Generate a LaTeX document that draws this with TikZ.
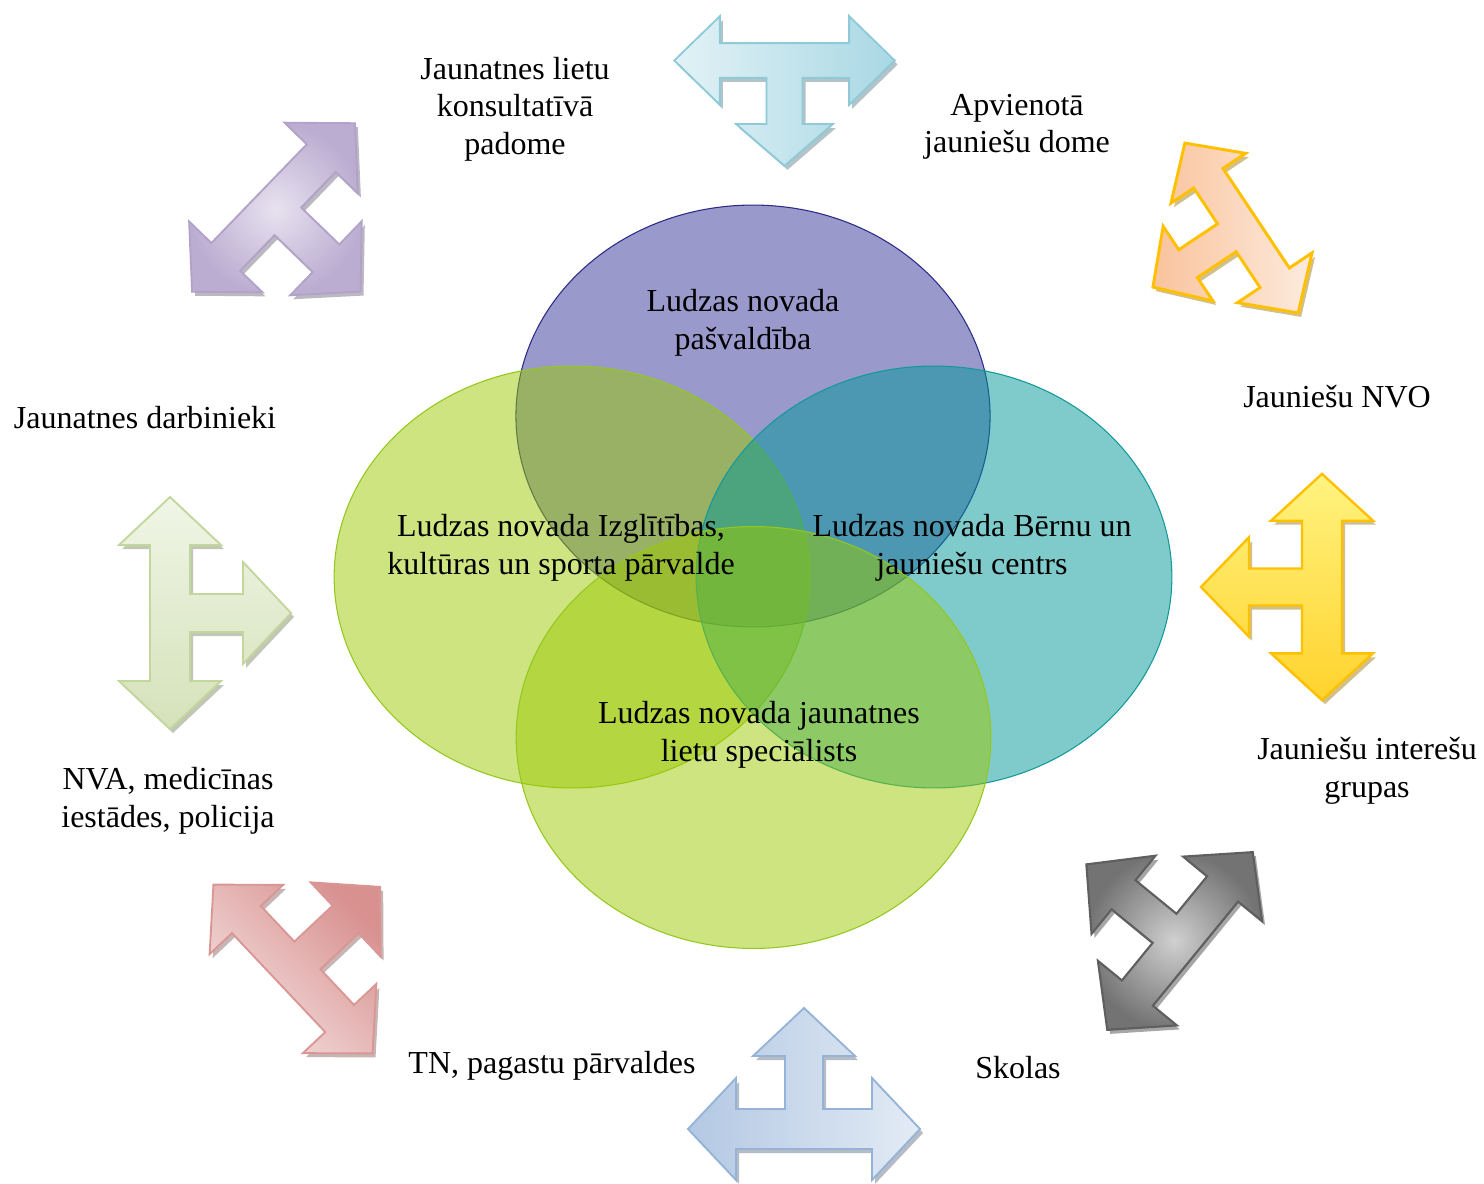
\documentclass[tikz,border=0pt]{standalone}
\usepackage{fontspec}
\setmainfont{Liberation Serif}
\definecolor{cyanB}{HTML}{8FCAD8}\definecolor{cyanL}{HTML}{E2F2F6}\definecolor{cyanD}{HTML}{A9D8E4}
\definecolor{blueB}{HTML}{95B3D7}\definecolor{blueL}{HTML}{E3EBF5}\definecolor{blueD}{HTML}{B3C8E3}
\definecolor{greenB}{HTML}{C3D69B}\definecolor{greenL}{HTML}{F0F5E6}\definecolor{greenD}{HTML}{D5E2BA}
\definecolor{yelB}{HTML}{FFC000}\definecolor{yelL}{HTML}{FFF380}\definecolor{yelD}{HTML}{FFC50A}
\definecolor{purB}{HTML}{B3A2C7}\definecolor{purL}{HTML}{E7E2EF}\definecolor{purD}{HTML}{BBADD1}
\definecolor{oraB}{HTML}{FFC000}\definecolor{oraL}{HTML}{FDEBDE}\definecolor{oraD}{HTML}{F9C39C}
\definecolor{grayB}{HTML}{5F5F5F}\definecolor{grayL}{HTML}{D0D0D0}\definecolor{grayD}{HTML}{737373}
\definecolor{redB}{HTML}{D99694}\definecolor{redL}{HTML}{F3E1E0}\definecolor{redD}{HTML}{D8918F}
\definecolor{purE}{HTML}{333399}\definecolor{purEB}{HTML}{2B2B88}
\definecolor{grnE}{HTML}{9BC901}\definecolor{grnEB}{HTML}{94C81E}
\definecolor{tealE}{HTML}{009797}\definecolor{tealEB}{HTML}{14999A}
\newcommand{\TAp}{(-116,0) -- (-68,51) -- (-68,20) -- (68,20) -- (68,51) -- (116,0) -- (68,-51) -- (68,-20) -- (19,-20) -- (19,-73) -- (51,-73) -- (0,-121) -- (-51,-73) -- (-19,-73) -- (-19,-20) -- (-68,-20) -- (-68,-51) -- cycle}
\newcommand{\TArrow}[7]{%
\begin{scope}[shift={(#1+3,#2+4)},rotate=#3,y=0.375pt,xscale=#4,yscale=#5]
\fill[#7!60!black,opacity=0.45] \TAp;
\end{scope}
\begin{scope}[shift={(#1,#2)},rotate=#3,y=0.375pt,xscale=#4,yscale=#5]
\path[draw=#7,line join=miter,line width=0.7pt,#6] \TAp;
\end{scope}}
\tikzset{
  lbl/.style={align=center,inner sep=0pt,font=\fontsize{12pt}{14.1pt}\selectfont},
  venn/.style={fill opacity=0.5,line width=0.4pt}
}
\begin{document}
\begin{tikzpicture}[x=0.375pt,y=-0.375pt]
\useasboundingbox (0,0) rectangle (1484,1184);
% Venn ellipses
\draw[venn,fill=purE,draw=purEB] (753,416) ellipse [x radius=88.9pt,y radius=79.1pt];
\draw[venn,fill=grnE,draw=grnEB] (572,577) ellipse [x radius=89.2pt,y radius=79.1pt];
\draw[venn,fill=tealE,draw=tealEB] (934,577) ellipse [x radius=89.2pt,y radius=79.1pt];
\draw[venn,fill=grnE,draw=grnEB] (753.5,737.5) ellipse [x radius=89pt,y radius=79.1pt];
% arrows
\TArrow{784.5}{60.5}{0}{0.95}{0.87}{left color=cyanL,right color=cyanD}{cyanB}
\TArrow{804}{1129}{180}{1.0}{1.0}{left color=blueD,right color=blueL}{blueB}
\TArrow{170}{613}{90}{1.0}{1.0}{top color=greenL,bottom color=greenD}{greenB}
\TArrow{1322}{587}{-90}{0.975}{1.0}{top color=yelL,middle color=yelD,bottom color=yelD!70!yelL,line width=0.9pt}{yelB}
\TArrow{273.5}{207.5}{46}{1.01}{1.0}{inner color=purL,outer color=purD}{purB}
\TArrow{1241.5}{228}{-56.3}{0.88}{0.88}{left color=oraD,right color=oraL,line width=1.1pt}{oraB}
\TArrow{1180}{941}{230.7}{0.99}{1.0}{inner color=grayL,outer color=grayD,line width=0.8pt}{grayB}
\TArrow{293}{969}{133.3}{1.0}{0.99}{top color=redD,middle color=redL,bottom color=redL,shading angle=-45}{redB}
% venn texts
\node[lbl] (t1) at (743,323) {Ludzas novada\\pašvaldība};
\node[lbl] (t2) at (561,548) {Ludzas novada Izglītības,\\kultūras un sporta pārvalde};
\node[lbl] (t3) at (972,548) {Ludzas novada Bērnu un\\jauniešu centrs};
\node[lbl] (t4) at (759,735) {Ludzas novada jaunatnes\\lietu speciālists};
% outer labels
\node[lbl] (l1) at (515,109) {Jaunatnes lietu\\konsultatīvā\\padome};
\node[lbl] (l2) at (1017,127) {Apvienotā\\jauniešu dome};
\node[lbl] (l3) at (1337,397) {Jauniešu NVO};
\node[lbl] (l4) at (145,418) {Jaunatnes darbinieki};
\node[lbl] (l5) at (1367,771) {Jauniešu interešu\\grupas};
\node[lbl] (l6) at (168,801) {NVA, medicīnas\\iestādes, policija};
\node[lbl] (l7) at (552,1066) {TN, pagastu pārvaldes};
\node[lbl] (l8) at (1018,1068) {Skolas};
\end{tikzpicture}
\end{document}
